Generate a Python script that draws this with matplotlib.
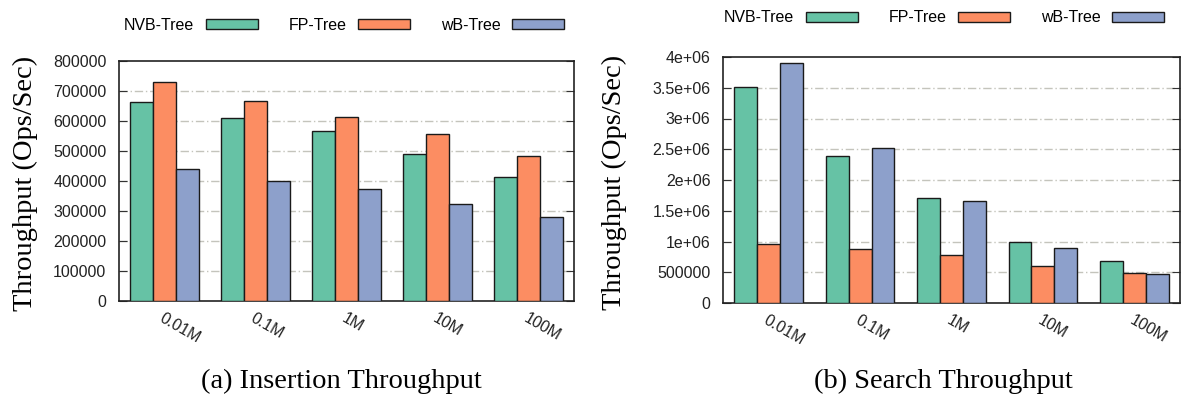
import matplotlib
matplotlib.use('Agg')
import matplotlib.pyplot as plt
from matplotlib.patches import Patch
import numpy as np

sizes = ['0.01M', '0.1M', '1M', '10M', '100M']
trees = ['NVB-Tree', 'FP-Tree', 'wB-Tree']
colors = ['#66c2a5', '#fc8d62', '#8da0cb']

insert_nvb = [664000, 611000, 568000, 490000, 413000]
insert_fp = [729000, 668000, 614000, 557000, 483000]
insert_wb = [441000, 399000, 374000, 323000, 280000]

search_nvb = [3516000, 2396000, 1712000, 995000, 679000]
search_fp = [957000, 875000, 788000, 609000, 489000]
search_wb = [3900000, 2527000, 1652000, 902000, 473000]

insert_ticks = [0, 100000, 200000, 300000, 400000, 500000, 600000, 700000, 800000]
insert_labels = ['0', '100000', '200000', '300000', '400000', '500000', '600000', '700000', '800000']
search_ticks = [0, 500000, 1000000, 1500000, 2000000, 2500000, 3000000, 3500000, 4000000]
search_labels = ['0', '500000', '1e+06', '1.5e+06', '2e+06', '2.5e+06', '3e+06', '3.5e+06', '4e+06']

W, H = 1182, 401
fig = plt.figure(figsize=(W / 100, H / 100), dpi=100)

sans = 'Liberation Sans'
serif = 'Liberation Serif'
bar_w = 0.25


def panel(rect, series, ymax, ticks, labels, ylabel_x, caption, cap_x, leg_x, leg_y):
    l, t, r, b = rect
    ax = fig.add_axes([l / W, 1 - b / H, (r - l) / W, (b - t) / H])
    x = np.arange(len(sizes))
    for i, vals in enumerate(series):
        ax.bar(x + (i - 1) * bar_w, vals, bar_w, color=colors[i],
               edgecolor='#1a1a1a', linewidth=1.0, zorder=3)
    ax.set_xlim(-0.5, len(sizes) - 0.5)
    ax.set_ylim(0, ymax)
    ax.set_yticks(ticks)
    ax.set_yticklabels(labels, fontsize=11.5, family=sans, color='#222222')
    ax.set_xticks(x)
    ax.set_xticklabels(sizes, fontsize=11.5, family=sans, color='#222222',
                       rotation=-30, ha='left', va='top', rotation_mode='anchor')
    ax.tick_params(axis='x', length=0, pad=7)
    ax.tick_params(axis='y', direction='in', right=True, length=6, width=0.8,
                   color='#333333', pad=9)
    for tk in ticks[1:-1]:
        ax.axhline(tk, color='#c4c4bc', linewidth=1.0,
                   linestyle=(0, (6, 2, 1, 2)), zorder=1)
    for s in ax.spines.values():
        s.set_linewidth(1.2)
        s.set_color('#222222')
    fig.text(ylabel_x / W, 1 - (t + b) / 2 / H - 0.005, 'Throughput (Ops/Sec)',
             rotation=90, ha='center', va='center', fontsize=20.5, family=serif)
    fig.text(cap_x / W, 1 - 381 / H, caption, ha='center', va='center',
             fontsize=20.5, family=serif)
    handles = [Patch(facecolor=c, edgecolor='#1a1a1a', linewidth=1.0) for c in colors]
    fig.legend(handles, trees, loc='center', bbox_to_anchor=(leg_x / W, 1 - leg_y / H),
               ncol=3, frameon=False, markerfirst=False, handlelength=3.25,
               handleheight=0.6, handletextpad=0.75, columnspacing=1.9,
               prop={'family': sans, 'size': 11.5})
    return ax


panel((119, 61, 574, 301), [insert_nvb, insert_fp, insert_wb], 800000,
      insert_ticks, insert_labels, 25, '(a) Insertion Throughput', 341, 344, 25)
panel((723, 57, 1180, 303), [search_nvb, search_fp, search_wb], 4000000,
      search_ticks, search_labels, 614, '(b) Search Throughput', 943, 944, 18)

fig.savefig('out.png', dpi=100)
